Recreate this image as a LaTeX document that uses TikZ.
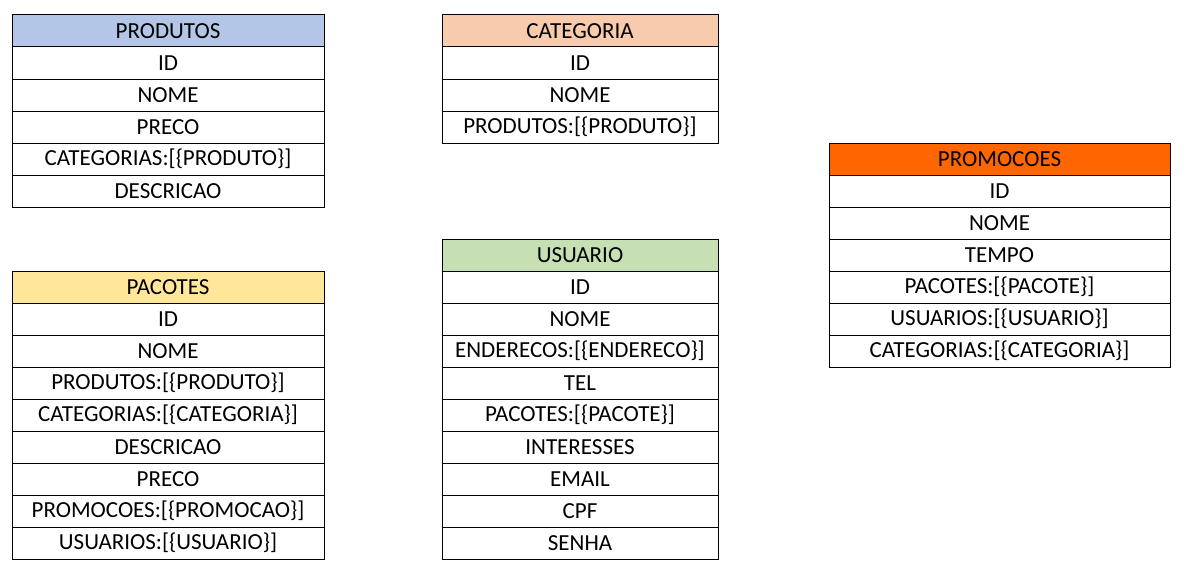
\documentclass[tikz,border=0pt]{standalone}
\usepackage{fontspec}
\setmainfont{Carlito}
\definecolor{hblue}{HTML}{B4C6E7}
\definecolor{hpeach}{HTML}{F8CBAD}
\definecolor{horange}{HTML}{FF6600}
\definecolor{hyellow}{HTML}{FFE699}
\definecolor{hgreen}{HTML}{C6E0B4}
\begin{document}
\begin{tikzpicture}[x=1pt,y=-1pt,
  cell/.style={draw=black, line width=1pt, minimum height=32pt, inner sep=0pt, outer sep=0pt,
    anchor=north west, font=\fontsize{23}{27}\selectfont, text=black}]
\useasboundingbox[fill=white] (0,0) rectangle (1191,586);
% PRODUTOS
\node[cell, minimum width=312pt, fill=hblue] (prod0) at (12,15) {PRODUTOS};
\foreach \t [count=\i] in {ID,NOME,PRECO,{CATEGORIAS:[\{PRODUTO\}]},DESCRICAO}
  \node[cell, minimum width=312pt] (prod\i) at (12,15+32*\i) {\t};
% CATEGORIA
\node[cell, minimum width=276pt, fill=hpeach] (cat0) at (442,15) {CATEGORIA};
\foreach \t [count=\i] in {ID,NOME,{PRODUTOS:[\{PRODUTO\}]}}
  \node[cell, minimum width=276pt] (cat\i) at (442,15+32*\i) {\t};
% PROMOCOES
\node[cell, minimum width=341pt, fill=horange] (prom0) at (829,143) {PROMOCOES};
\foreach \t [count=\i] in {ID,NOME,TEMPO,{PACOTES:[\{PACOTE\}]},{USUARIOS:[\{USUARIO\}]},{CATEGORIAS:[\{CATEGORIA\}]}}
  \node[cell, minimum width=341pt] (prom\i) at (829,143+32*\i) {\t};
% PACOTES
\node[cell, minimum width=312pt, fill=hyellow] (pac0) at (12,271) {PACOTES};
\foreach \t [count=\i] in {ID,NOME,{PRODUTOS:[\{PRODUTO\}]},{CATEGORIAS:[\{CATEGORIA\}]},DESCRICAO,PRECO,{PROMOCOES:[\{PROMOCAO\}]},{USUARIOS:[\{USUARIO\}]}}
  \node[cell, minimum width=312pt] (pac\i) at (12,271+32*\i) {\t};
% USUARIO
\node[cell, minimum width=276pt, fill=hgreen] (usu0) at (442,239) {USUARIO};
\foreach \t [count=\i] in {ID,NOME,{ENDERECOS:[\{ENDERECO\}]},TEL,{PACOTES:[\{PACOTE\}]},INTERESSES,EMAIL,CPF,SENHA}
  \node[cell, minimum width=276pt] (usu\i) at (442,239+32*\i) {\t};
\end{tikzpicture}
\end{document}
